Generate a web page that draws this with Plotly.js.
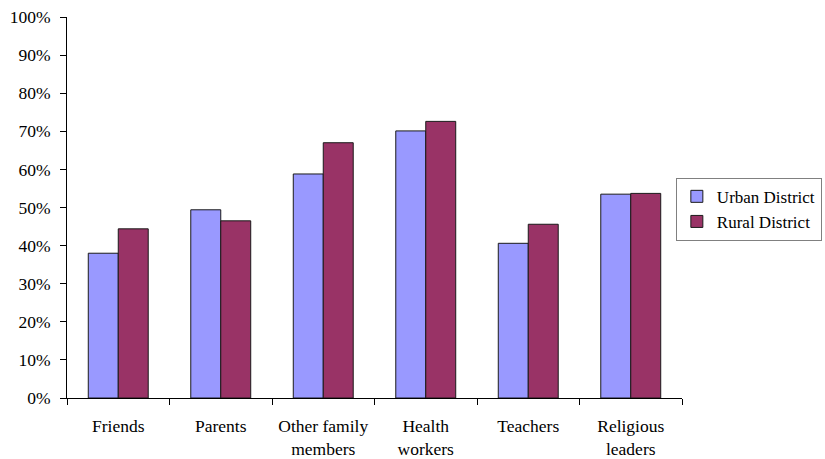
<!DOCTYPE html>
<html>
<head>
<meta charset="utf-8">
<script src="https://cdn.plot.ly/plotly-3.0.1.min.js"></script>
<style>
  html, body { margin: 0; padding: 0; background: #fff; }
  #chart { width: 825px; height: 459px; }
</style>
</head>
<body>
<div id="chart"></div>
<script>
// Sources of information, share of respondents (%)
var categories = ["Friends", "Parents", "Other family<br>members", "Health<br>workers", "Teachers", "Religious<br>leaders"];
var urbanValues = [38.0, 49.4, 58.8, 70.1, 40.6, 53.5];
var ruralValues = [44.4, 46.5, 67.0, 72.6, 45.6, 53.7];
var yTickValues = [0, 10, 20, 30, 40, 50, 60, 70, 80, 90, 100];
var yTickLabels = ["0%", "10%", "20%", "30%", "40%", "50%", "60%", "70%", "80%", "90%", "100%"];

var serif = "'Liberation Serif', 'Times New Roman', serif";

var traces = [
  {
    type: "bar",
    name: "Urban District",
    x: categories,
    y: urbanValues,
    marker: { color: "#9999FF", line: { color: "#1a1a1a", width: 1 } },
    hoverinfo: "skip"
  },
  {
    type: "bar",
    name: "Rural District",
    x: categories,
    y: ruralValues,
    marker: { color: "#993366", line: { color: "#1a1a1a", width: 1 } },
    hoverinfo: "skip"
  }
];

var layout = {
  width: 825,
  height: 459,
  margin: { l: 67, r: 143, t: 17, b: 61, pad: 0, autoexpand: false },
  paper_bgcolor: "#ffffff",
  plot_bgcolor: "#ffffff",
  font: { family: serif, size: 17.5, color: "#000000" },
  barmode: "group",
  bargap: 0.415,
  bargroupgap: 0,
  showlegend: true,
  legend: {
    x: 0.99,
    xanchor: "left",
    y: 0.578,
    yanchor: "top",
    bgcolor: "#ffffff",
    bordercolor: "#808080",
    borderwidth: 1,
    font: { family: serif, size: 17, color: "#000000" }
  },
  xaxis: {
    type: "category",
    showline: true,
    linecolor: "#000000",
    linewidth: 1,
    ticks: "outside",
    tickson: "boundaries",
    ticklen: 6,
    tickcolor: "#000000",
    ticklabelstandoff: 12,
    showgrid: false,
    zeroline: false,
    fixedrange: true
  },
  yaxis: {
    range: [0, 100],
    tickmode: "array",
    tickvals: yTickValues,
    ticktext: yTickLabels,
    showline: true,
    linecolor: "#000000",
    linewidth: 1,
    ticks: "outside",
    ticklen: 6,
    tickcolor: "#000000",
    ticklabelstandoff: 6,
    showgrid: false,
    zeroline: false,
    fixedrange: true
  }
};

Plotly.newPlot("chart", traces, layout, { displayModeBar: false, staticPlot: true });
</script>
</body>
</html>
